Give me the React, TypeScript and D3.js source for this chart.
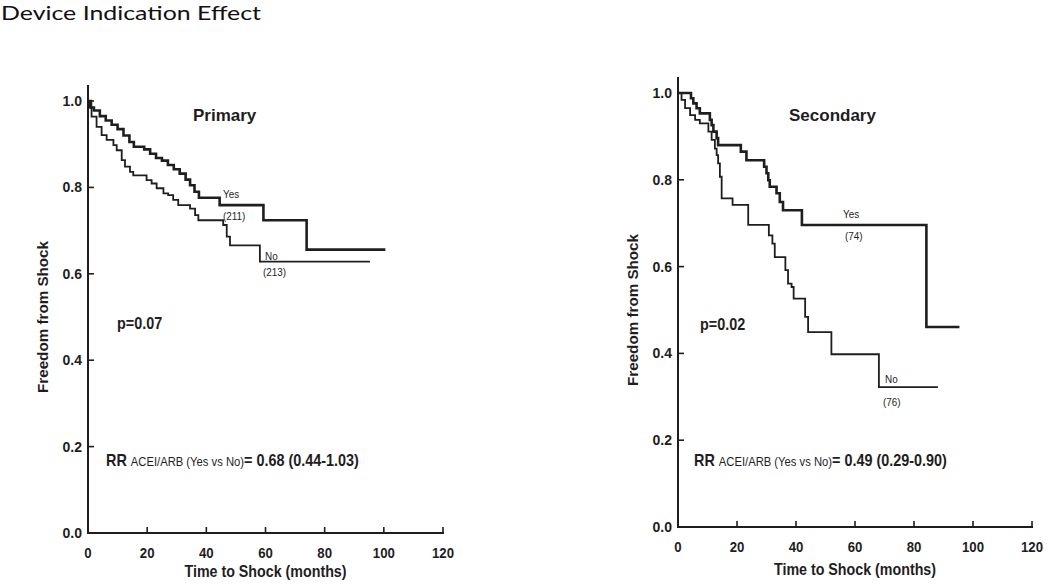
import React from "react";
import * as d3 from "d3";

// ---- Data ----
const timeTicks = [0, 20, 40, 60, 80, 100, 120];
const survTicks = [0, 0.2, 0.4, 0.6, 0.8, 1.0];

const primaryYesTime = [0, 1, 2, 4, 6, 8, 10, 12, 14, 15.5, 19, 21, 23, 25, 27, 29, 31, 33, 34.5, 36, 37.5, 44.5, 59.3, 73.9, 100.5];
const primaryYesSurv = [1.0, 0.985, 0.978, 0.965, 0.955, 0.945, 0.935, 0.92, 0.905, 0.894, 0.888, 0.878, 0.868, 0.862, 0.852, 0.842, 0.832, 0.818, 0.805, 0.79, 0.776, 0.759, 0.724, 0.656, 0.656];

const primaryNoTime = [0, 0.5, 1.2, 2.9, 4.6, 6.3, 8.6, 9.7, 11.4, 12.5, 14.2, 15.3, 19.8, 21.5, 23.2, 25.5, 27.1, 28.8, 30.5, 34.5, 36.2, 37.3, 45.7, 46.9, 48.0, 58.1, 95.3];
const primaryNoSurv = [1.0, 0.985, 0.964, 0.94, 0.921, 0.91, 0.898, 0.886, 0.863, 0.848, 0.836, 0.828, 0.817, 0.809, 0.798, 0.786, 0.782, 0.771, 0.759, 0.751, 0.736, 0.724, 0.713, 0.686, 0.666, 0.628, 0.628];

const secondaryYesTime = [0, 4.4, 5.2, 6.3, 7.4, 10.8, 11.4, 12.0, 13.1, 13.6, 21.3, 23.2, 29.2, 30.0, 30.6, 31.1, 33.4, 34.5, 35.6, 42.0, 84.2, 95.4];
const secondaryYesSurv = [1.0, 0.988, 0.976, 0.965, 0.953, 0.938, 0.926, 0.911, 0.896, 0.88, 0.865, 0.845, 0.83, 0.815, 0.799, 0.784, 0.769, 0.749, 0.73, 0.696, 0.461, 0.461];

const secondaryNoTime = [0, 1.2, 2.4, 4.1, 5.8, 7.4, 10.3, 11.4, 12.5, 13.1, 13.6, 14.2, 14.8, 18.5, 23.8, 30.8, 32.0, 32.8, 36.4, 37.3, 38.5, 39.2, 43.1, 44.1, 52.0, 68.1, 88.1];
const secondaryNoSurv = [1.0, 0.984, 0.965, 0.949, 0.938, 0.93, 0.911, 0.892, 0.872, 0.857, 0.838, 0.807, 0.757, 0.742, 0.696, 0.672, 0.653, 0.622, 0.592, 0.561, 0.553, 0.526, 0.484, 0.449, 0.398, 0.3225, 0.3225];

const titleText = "Device Indication Effect";
const xTitle = "Time to Shock (months)";
const yTitle = "Freedom from Shock";

type PanelCfg = {
  x0: number; x1: number; yBottom: number; yTop: number;
  name: string; nameX: number; nameY: number;
  pText: string; pX: number; pY: number;
  rrMain: string; rrX: number; rrY: number;
  yesT: number[]; yesS: number[]; noT: number[]; noS: number[];
  yesLab: [number, number, number, number, string];
  noLab: [number, number, number, number, string];
  yTitleX: number; xTitleY: number;
};

const panels: PanelCfg[] = [
  {
    x0: 88, x1: 443, yBottom: 533, yTop: 101,
    name: "Primary", nameX: 193, nameY: 121,
    pText: "p=0.07", pX: 117, pY: 329,
    rrMain: "= 0.68 (0.44-1.03)", rrX: 106, rrY: 466,
    yesT: primaryYesTime, yesS: primaryYesSurv, noT: primaryNoTime, noS: primaryNoSurv,
    yesLab: [223, 198, 223, 220, "(211)"],
    noLab: [265, 260, 263, 276, "(213)"],
    yTitleX: 43, xTitleY: 577,
  },
  {
    x0: 678, x1: 1032, yBottom: 527, yTop: 93,
    name: "Secondary", nameX: 789, nameY: 121,
    pText: "p=0.02", pX: 700, pY: 330,
    rrMain: "= 0.49 (0.29-0.90)", rrX: 694, rrY: 466,
    yesT: secondaryYesTime, yesS: secondaryYesSurv, noT: secondaryNoTime, noS: secondaryNoSurv,
    yesLab: [843, 218, 845, 240, "(74)"],
    noLab: [885, 383, 883, 406, "(76)"],
    yTitleX: 633, xTitleY: 575,
  },
];

const INK = "#1e1e1e";
const FONT = "'Liberation Sans', Arial, sans-serif";

function Panel({ c }: { c: PanelCfg }) {
  const x = d3.scaleLinear().domain([0, 120]).range([c.x0, c.x1]);
  const y = d3.scaleLinear().domain([0, 1]).range([c.yBottom, c.yTop]);
  const line = d3
    .line<[number, number]>()
    .x((d) => x(d[0]))
    .y((d) => y(d[1]))
    .curve(d3.curveStepAfter);
  const yesPts = c.yesT.map((t, i) => [t, c.yesS[i]] as [number, number]);
  const noPts = c.noT.map((t, i) => [t, c.noS[i]] as [number, number]);
  const axisTop = y(1) - 16;
  const cx = (c.x0 + c.x1) / 2;
  const cy = (c.yBottom + axisTop) / 2;
  return (
    <g>
      {/* axes */}
      <line x1={x(0)} x2={x(0)} y1={axisTop} y2={y(0) + 1} stroke={INK} strokeWidth={2} />
      <line x1={x(0) - 1} x2={x(120) + 1} y1={y(0)} y2={y(0)} stroke={INK} strokeWidth={2} />
      {timeTicks.map((t) => (
        <g key={"xt" + t}>
          {t > 0 && <line x1={x(t)} x2={x(t)} y1={y(0)} y2={y(0) - 6} stroke={INK} strokeWidth={1.6} />}
          <text
            transform={`translate(${x(t)},${y(0) + 25}) scale(0.88,1)`}
            textAnchor="middle"
            fontFamily={FONT}
            fontWeight="bold"
            fontSize={15}
            fill={INK}
          >
            {t}
          </text>
        </g>
      ))}
      {survTicks.map((s) => (
        <g key={"yt" + s}>
          {s > 0 && <line x1={x(0)} x2={x(0) + 6} y1={y(s)} y2={y(s)} stroke={INK} strokeWidth={1.6} />}
          <text
            x={x(0) - 6}
            y={y(s) + 5}
            textAnchor="end"
            fontFamily={FONT}
            fontWeight="bold"
            fontSize={14}
            fill={INK}
          >
            {s.toFixed(1)}
          </text>
        </g>
      ))}
      {/* axis titles */}
      <text
        transform={`translate(${c.yTitleX + 5},${cy + 8}) rotate(-90)`}
        textAnchor="middle"
        fontFamily={FONT}
        fontWeight="bold"
        fontSize={15}
        fill={INK}
        textLength={152}
        lengthAdjust="spacingAndGlyphs"
      >
        {yTitle}
      </text>
      <text
        x={cx}
        y={c.xTitleY}
        textAnchor="middle"
        fontFamily={FONT}
        fontWeight="bold"
        fontSize={16}
        fill={INK}
        textLength={162}
        lengthAdjust="spacingAndGlyphs"
      >
        {xTitle}
      </text>
      {/* curves */}
      <path d={line(noPts) || ""} fill="none" stroke={INK} strokeWidth={1.8} />
      <path d={line(yesPts) || ""} fill="none" stroke={INK} strokeWidth={2.6} />
      {/* panel name */}
      <text x={c.nameX} y={c.nameY} fontFamily={FONT} fontWeight="bold" fontSize={17} fill={INK}>
        {c.name}
      </text>
      <text
        transform={`translate(${c.pX},${c.pY}) scale(0.9,1)`}
        fontFamily={FONT}
        fontWeight="bold"
        fontSize={16}
        fill={INK}
      >
        {c.pText}
      </text>
      <text
        transform={`translate(${c.rrX},${c.rrY}) scale(0.9,1)`}
        fontFamily={FONT}
        fontWeight="bold"
        fontSize={16}
        fill={INK}
      >
        <tspan>RR </tspan>
        <tspan fontSize={12.5} fontWeight="normal">ACEI/ARB (Yes vs No)</tspan>
        <tspan>{c.rrMain}</tspan>
      </text>
      {/* curve labels */}
      <text transform={`translate(${c.yesLab[0]},${c.yesLab[1]}) scale(0.9,1)`} fontFamily={FONT} fontSize={11} fill={INK}>
        Yes
      </text>
      <text transform={`translate(${c.yesLab[2]},${c.yesLab[3]}) scale(0.9,1)`} fontFamily={FONT} fontSize={11} fill={INK}>
        {c.yesLab[4]}
      </text>
      <text transform={`translate(${c.noLab[0]},${c.noLab[1]}) scale(0.9,1)`} fontFamily={FONT} fontSize={11} fill={INK}>
        No
      </text>
      <text transform={`translate(${c.noLab[2]},${c.noLab[3]}) scale(0.9,1)`} fontFamily={FONT} fontSize={11} fill={INK}>
        {c.noLab[4]}
      </text>
    </g>
  );
}

export default function App() {
  return (
    <svg
      width={1050}
      height={586}
      style={{ position: "absolute", left: 0, top: 0, background: "#fff" }}
    >
      <rect x={0} y={0} width={1050} height={586} fill="#fff" />
      <text
        x={1}
        y={20}
        fontFamily="Lato, 'Open Sans', sans-serif"
        fontSize={20}
        fill="#111"
        textLength={260}
        lengthAdjust="spacingAndGlyphs"
      >
        {titleText}
      </text>
      {panels.map((p) => (
        <Panel key={p.name} c={p} />
      ))}
    </svg>
  );
}
